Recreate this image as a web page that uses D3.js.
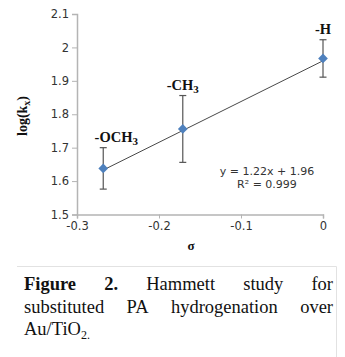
<!DOCTYPE html>
<html>
<head>
<meta charset="utf-8">
<script src="https://cdn.jsdelivr.net/npm/d3@7"></script>
<style>
  body { margin: 0; background: #fff; }
  svg { display: block; }
</style>
</head>
<body>
<div id="chart"></div>
<script>
// data
const substituents = ['-OCH', '-CH', '-H'];
const subscripts = ['3', '3', ''];
const sigma = [-0.268, -0.171, 0];
const logK = [1.638, 1.756, 1.967];
const errUp = [0.062, 0.100, 0.056];
const errDown = [0.062, 0.100, 0.056];
const fit = { slope: 1.22, intercept: 1.96, r2: 0.999 };
const xTicks = [-0.3, -0.2, -0.1, 0];
const yTicks = [1.5, 1.6, 1.7, 1.8, 1.9, 2, 2.1];

const width = 345, height = 357;
const svg = d3.select('#chart').append('svg')
    .attr('width', width)
    .attr('height', height);

const x = d3.scaleLinear().domain([-0.3, 0]).range([77, 323]);
const y = d3.scaleLinear().domain([1.5, 2.1]).range([214.5, 14]);

const tickFont = '"DejaVu Sans", Verdana, sans-serif';
const serif = '"Liberation Serif", "Times New Roman", serif';

// axes
const yAxis = svg.append('g')
    .attr('transform', `translate(${x(-0.3)},0)`)
    .call(d3.axisLeft(y).tickValues(yTicks).tickSize(5).tickPadding(3)
        .tickFormat(d => d3.format('')(+d.toFixed(1))));
const xAxis = svg.append('g')
    .attr('transform', `translate(0,${y(1.5)})`)
    .call(d3.axisBottom(x).tickValues(xTicks).tickSize(4).tickPadding(3)
        .tickFormat(d => d === 0 ? '0' : d.toFixed(1)));

[yAxis, xAxis].forEach(g => {
    g.select('.domain').attr('stroke', '#b4b4b4').attr('stroke-width', 1.5);
    g.selectAll('.tick line').attr('stroke', '#b4b4b4');
    g.selectAll('.tick text')
        .attr('fill', '#333')
        .style('font-family', tickFont)
        .style('font-size', '11.5px');
});

// trend line over data range
const xs = d3.extent(sigma);
svg.append('line')
    .attr('x1', x(xs[0])).attr('y1', y(fit.slope * xs[0] + fit.intercept))
    .attr('x2', x(xs[1])).attr('y2', y(fit.slope * xs[1] + fit.intercept))
    .attr('stroke', '#333')
    .attr('stroke-width', 0.9);

// error bars
const err = svg.append('g').attr('stroke', '#555').attr('stroke-width', 1.2);
sigma.forEach((s, i) => {
    const cx = x(s);
    const top = y(logK[i] + errUp[i]);
    const bot = y(logK[i] - errDown[i]);
    err.append('line').attr('x1', cx).attr('x2', cx).attr('y1', top).attr('y2', bot);
    err.append('line').attr('x1', cx - 3.5).attr('x2', cx + 3.5).attr('y1', top).attr('y2', top);
    err.append('line').attr('x1', cx - 3.5).attr('x2', cx + 3.5).attr('y1', bot).attr('y2', bot);
});

// diamond markers
svg.append('g').selectAll('path')
    .data(sigma)
    .join('path')
    .attr('transform', (d, i) => `translate(${x(d)},${y(logK[i])})`)
    .attr('d', d3.symbol(d3.symbolDiamond2, 60))
    .attr('fill', '#4f81bd');

// substituent labels
const labelDx = [13, 0, 0];
substituents.forEach((name, i) => {
    const t = svg.append('text')
        .attr('x', x(sigma[i]) + labelDx[i])
        .attr('y', y(logK[i] + errUp[i]) - 6)
        .attr('text-anchor', 'middle')
        .style('font-family', serif)
        .style('font-weight', 'bold')
        .style('font-size', '14.5px')
        .attr('fill', '#111')
        .text(name);
    if (subscripts[i]) {
        t.append('tspan').attr('dy', 3).style('font-size', '11px').text(subscripts[i]);
    }
});

// regression text, two separate lines
const eqLines = [`y = ${fit.slope}x + ${fit.intercept}`, `R² = ${fit.r2}`];
svg.append('g').selectAll('text')
    .data(eqLines)
    .join('text')
    .attr('x', 267)
    .attr('y', (d, i) => 175 + i * 12.5)
    .attr('text-anchor', 'middle')
    .style('font-family', tickFont)
    .style('font-size', '11px')
    .attr('fill', '#333')
    .text(d => d);

// axis titles
const yTitle = svg.append('text')
    .attr('transform', 'translate(27,116) rotate(-90)')
    .attr('text-anchor', 'middle')
    .style('font-family', serif)
    .style('font-weight', 'bold')
    .style('font-size', '14px')
    .attr('fill', '#111');
yTitle.append('tspan').text('log(k');
yTitle.append('tspan').attr('dy', 3).style('font-size', '10px').text('x');
yTitle.append('tspan').attr('dy', -3).text(')');

svg.append('text')
    .attr('x', 191).attr('y', 250)
    .attr('text-anchor', 'middle')
    .style('font-family', serif)
    .style('font-weight', 'bold')
    .style('font-size', '13px')
    .attr('fill', '#111')
    .text('σ');

// caption box
svg.append('path')
    .attr('d', `M17,266.5H336.5V${height}`)
    .attr('fill', 'none')
    .attr('stroke', '#e2e2e2');

const capLines = [
    [{ t: 'Figure', b: true }, { t: '2.', b: true }, { t: 'Hammett' }, { t: 'study' }, { t: 'for' }],
    [{ t: 'substituted' }, { t: 'PA' }, { t: 'hydrogenation' }, { t: 'over' }],
];
const capLeft = 24, capRight = 333;
capLines.forEach((words, li) => {
    const baseY = 290 + li * 22.5;
    const nodes = words.map(w => svg.append('text')
        .attr('y', baseY)
        .style('font-family', serif)
        .style('font-size', '18.5px')
        .style('font-weight', w.b ? 'bold' : 'normal')
        .attr('fill', '#111')
        .text(w.t));
    const widths = nodes.map(n => n.node().getComputedTextLength());
    const gap = (capRight - capLeft - d3.sum(widths)) / (nodes.length - 1);
    let cx = capLeft;
    nodes.forEach((n, i) => { n.attr('x', cx); cx += widths[i] + gap; });
});
const last = svg.append('text')
    .attr('x', capLeft).attr('y', 335)
    .style('font-family', serif)
    .style('font-size', '18.5px')
    .attr('fill', '#111')
    .text('Au/TiO');
last.append('tspan').attr('dy', 4).style('font-size', '12px').text('2.');
</script>
</body>
</html>
